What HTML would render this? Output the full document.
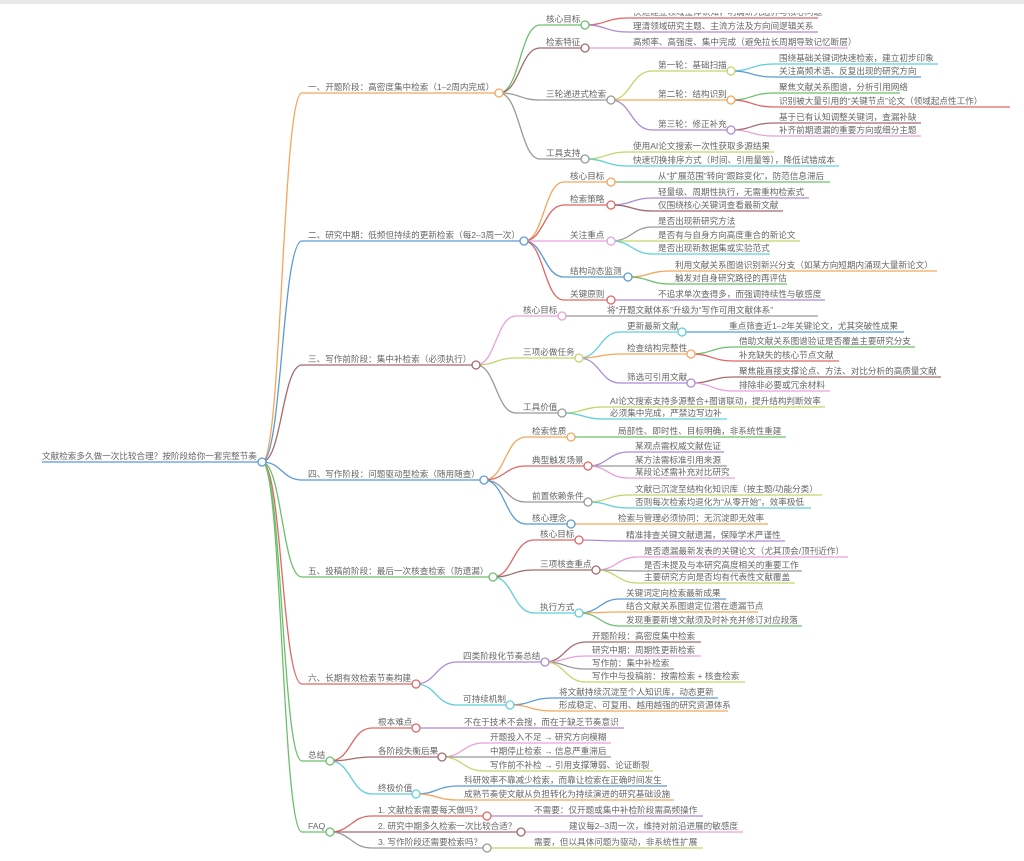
<!DOCTYPE html>
<html><head><meta charset="utf-8"><style>
html,body{margin:0;padding:0;background:#fff;}
svg{display:block;}
text{font-family:"Liberation Sans","Noto Sans CJK SC",sans-serif;font-size:8.6px;fill:#666;}
path{fill:none;stroke-width:1.3;}
circle{fill:#fff;stroke-width:1.3;}
</style></head><body>
<svg width="1024" height="861" viewBox="0 0 1024 861" xmlns="http://www.w3.org/2000/svg">
<rect x="0" y="0" width="1024" height="4" fill="#e8e8e8"/>
<path stroke="#5b9bd5" d="M42 462 H262"/>
<path stroke="#f5a65b" d="M262 462 C282 462 282 93 302 93 H499"/>
<path stroke="#5b9bd5" d="M262 462 C282 462 282 241 302 241 H524"/>
<path stroke="#a36b6b" d="M262 462 C282 462 282 365 302 365 H476"/>
<path stroke="#5b9bd5" d="M262 462 C282 462 282 480 302 480 H484"/>
<path stroke="#6cc06c" d="M262 462 C282 462 282 577 302 577 H493"/>
<path stroke="#e06666" d="M262 462 C282 462 282 684 302 684 H416"/>
<path stroke="#6cc06c" d="M262 462 C282 462 282 761 302 761 H330"/>
<path stroke="#6cc06c" d="M262 462 C282 462 282 832 302 832 H330"/>
<path stroke="#6cc06c" d="M499 93 C520 93 520 25 540 25 H585"/>
<path stroke="#a36b6b" d="M499 93 C520 93 520 48 540 48 H585"/>
<path stroke="#999" d="M499 93 C520 93 520 100 540 100 H611"/>
<path stroke="#999" d="M499 93 C520 93 520 159 540 159 H585"/>
<path stroke="#e06666" d="M585 25 C606 25 606 18 628 18 H818"/>
<path stroke="#a98bd6" d="M585 25 C606 25 606 32 628 32 H818"/>
<path stroke="#e9a0d9" d="M585 48 H848"/>
<path stroke="#c5d36a" d="M611 100 C631 100 631 71 652 71 H731"/>
<path stroke="#f5a65b" d="M611 100 H731"/>
<path stroke="#a98bd6" d="M611 100 C631 100 631 130 652 130 H731"/>
<path stroke="#5fcfdc" d="M731 71 C752 71 752 64 774 64 H938"/>
<path stroke="#5b9bd5" d="M731 71 C752 71 752 77 774 77 H921"/>
<path stroke="#6cc06c" d="M731 100 C752 100 752 93 774 93 H900"/>
<path stroke="#e06666" d="M731 100 C752 100 752 107 774 107 H1010"/>
<path stroke="#a36b6b" d="M731 130 C752 130 752 123 774 123 H921"/>
<path stroke="#e9a0d9" d="M731 130 C752 130 752 136 774 136 H921"/>
<path stroke="#c5d36a" d="M585 159 C606 159 606 152 628 152 H774"/>
<path stroke="#5fcfdc" d="M585 159 C606 159 606 166 628 166 H839"/>
<path stroke="#f5a65b" d="M524 241 C544 241 544 182 564 182 H611"/>
<path stroke="#e06666" d="M524 241 C544 241 544 205 564 205 H611"/>
<path stroke="#e9a0d9" d="M524 241 H611"/>
<path stroke="#5b9bd5" d="M524 241 C544 241 544 277 564 277 H628"/>
<path stroke="#e06666" d="M524 241 C544 241 544 300 564 300 H611"/>
<path stroke="#6cc06c" d="M611 182 H830"/>
<path stroke="#a98bd6" d="M611 205 C632 205 632 198 653 198 H809"/>
<path stroke="#a36b6b" d="M611 205 C632 205 632 211 653 211 H783"/>
<path stroke="#999" d="M611 241 C632 241 632 227 653 227 H735"/>
<path stroke="#c5d36a" d="M611 241 H800"/>
<path stroke="#5fcfdc" d="M611 241 C632 241 632 254 653 254 H770"/>
<path stroke="#f5a65b" d="M628 277 C649 277 649 271 670 271 H937"/>
<path stroke="#6cc06c" d="M628 277 C649 277 649 284 670 284 H787"/>
<path stroke="#a98bd6" d="M611 300 H825"/>
<path stroke="#e9a0d9" d="M476 365 C496 365 496 316 516 316 H562"/>
<path stroke="#c5d36a" d="M476 365 C496 365 496 358 516 358 H579"/>
<path stroke="#999" d="M476 365 C496 365 496 413 516 413 H562"/>
<path stroke="#999" d="M562 316 H818"/>
<path stroke="#5fcfdc" d="M579 358 C600 358 600 332 620 332 H682"/>
<path stroke="#f5a65b" d="M579 358 C600 358 600 354 620 354 H691"/>
<path stroke="#a98bd6" d="M579 358 C600 358 600 383 620 383 H691"/>
<path stroke="#5b9bd5" d="M682 332 H904"/>
<path stroke="#6cc06c" d="M691 354 C712 354 712 347 734 347 H915"/>
<path stroke="#e06666" d="M691 354 C712 354 712 361 734 361 H839"/>
<path stroke="#a36b6b" d="M691 383 C712 383 712 377 734 377 H941"/>
<path stroke="#e9a0d9" d="M691 383 C712 383 712 391 734 391 H830"/>
<path stroke="#c5d36a" d="M562 413 C583 413 583 407 604 407 H825"/>
<path stroke="#5fcfdc" d="M562 413 C583 413 583 419 604 419 H727"/>
<path stroke="#f5a65b" d="M484 480 C505 480 505 437 526 437 H571"/>
<path stroke="#e06666" d="M484 480 C505 480 505 466 526 466 H588"/>
<path stroke="#999" d="M484 480 C505 480 505 502 526 502 H588"/>
<path stroke="#5b9bd5" d="M484 480 C505 480 505 524 526 524 H571"/>
<path stroke="#6cc06c" d="M571 437 H786"/>
<path stroke="#a98bd6" d="M588 466 C608 466 608 452 629 452 H724"/>
<path stroke="#999" d="M588 466 H727"/>
<path stroke="#e9a0d9" d="M588 466 C608 466 608 478 629 478 H735"/>
<path stroke="#c5d36a" d="M588 502 C608 502 608 495 629 495 H822"/>
<path stroke="#5fcfdc" d="M588 502 C608 502 608 508 629 508 H811"/>
<path stroke="#f5a65b" d="M571 524 H768"/>
<path stroke="#e06666" d="M493 577 C513 577 513 540 534 540 H579"/>
<path stroke="#a36b6b" d="M493 577 C513 577 513 570 534 570 H596"/>
<path stroke="#5fcfdc" d="M493 577 C513 577 513 613 534 613 H579"/>
<path stroke="#a98bd6" d="M579 540 C600 540 600 541 620 541 H785"/>
<path stroke="#e9a0d9" d="M596 570 C617 570 617 557 638 557 H848"/>
<path stroke="#999" d="M596 570 C617 570 617 571 638 571 H802"/>
<path stroke="#c5d36a" d="M596 570 C617 570 617 583 638 583 H795"/>
<path stroke="#5b9bd5" d="M579 613 C600 613 600 599 620 599 H726"/>
<path stroke="#f5a65b" d="M579 613 C600 613 600 612 620 612 H758"/>
<path stroke="#6cc06c" d="M579 613 C600 613 600 626 620 626 H802"/>
<path stroke="#a98bd6" d="M416 684 C436 684 436 662 457 662 H545"/>
<path stroke="#5fcfdc" d="M416 684 C436 684 436 705 457 705 H510"/>
<path stroke="#a36b6b" d="M545 662 C565 662 565 642 586 642 H701"/>
<path stroke="#e9a0d9" d="M545 662 C565 662 565 656 586 656 H701"/>
<path stroke="#999" d="M545 662 C565 662 565 669 586 669 H674"/>
<path stroke="#c5d36a" d="M545 662 C565 662 565 682 586 682 H745"/>
<path stroke="#5b9bd5" d="M510 705 C531 705 531 698 553 698 H718"/>
<path stroke="#f5a65b" d="M510 705 C531 705 531 711 553 711 H728"/>
<path stroke="#e06666" d="M330 761 C351 761 351 728 372 728 H416"/>
<path stroke="#a36b6b" d="M330 761 C351 761 351 757 372 757 H442"/>
<path stroke="#5fcfdc" d="M330 761 C351 761 351 794 372 794 H416"/>
<path stroke="#a98bd6" d="M416 728 H624"/>
<path stroke="#e9a0d9" d="M442 757 C463 757 463 743 484 743 H611"/>
<path stroke="#999" d="M442 757 H611"/>
<path stroke="#c5d36a" d="M442 757 C463 757 463 771 484 771 H653"/>
<path stroke="#5b9bd5" d="M416 794 C437 794 437 786 458 786 H667"/>
<path stroke="#f5a65b" d="M416 794 C437 794 437 800 458 800 H674"/>
<path stroke="#e06666" d="M330 832 C351 832 351 816 372 816 H487"/>
<path stroke="#a36b6b" d="M330 832 H521"/>
<path stroke="#999" d="M330 832 C351 832 351 848 372 848 H487"/>
<path stroke="#a98bd6" d="M487 816 H703"/>
<path stroke="#e9a0d9" d="M521 832 H743"/>
<path stroke="#c5d36a" d="M487 848 H703"/>

<circle cx="262" cy="462" r="4" stroke="#5b9bd5"/>
<circle cx="499" cy="93" r="4" stroke="#f5a65b"/>
<circle cx="524" cy="241" r="4" stroke="#5b9bd5"/>
<circle cx="476" cy="365" r="4" stroke="#a36b6b"/>
<circle cx="484" cy="480" r="4" stroke="#5b9bd5"/>
<circle cx="493" cy="577" r="4" stroke="#6cc06c"/>
<circle cx="416" cy="684" r="4" stroke="#e06666"/>
<circle cx="330" cy="761" r="4" stroke="#6cc06c"/>
<circle cx="330" cy="832" r="4" stroke="#6cc06c"/>
<circle cx="585" cy="25" r="4" stroke="#6cc06c"/>
<circle cx="585" cy="48" r="4" stroke="#a36b6b"/>
<circle cx="611" cy="100" r="4" stroke="#999"/>
<circle cx="585" cy="159" r="4" stroke="#999"/>
<circle cx="731" cy="71" r="4" stroke="#c5d36a"/>
<circle cx="731" cy="100" r="4" stroke="#f5a65b"/>
<circle cx="731" cy="130" r="4" stroke="#a98bd6"/>
<circle cx="611" cy="182" r="4" stroke="#f5a65b"/>
<circle cx="611" cy="205" r="4" stroke="#e06666"/>
<circle cx="611" cy="241" r="4" stroke="#e9a0d9"/>
<circle cx="628" cy="277" r="4" stroke="#5b9bd5"/>
<circle cx="611" cy="300" r="4" stroke="#e06666"/>
<circle cx="562" cy="316" r="4" stroke="#e9a0d9"/>
<circle cx="579" cy="358" r="4" stroke="#c5d36a"/>
<circle cx="562" cy="413" r="4" stroke="#999"/>
<circle cx="682" cy="332" r="4" stroke="#5fcfdc"/>
<circle cx="691" cy="354" r="4" stroke="#f5a65b"/>
<circle cx="691" cy="383" r="4" stroke="#a98bd6"/>
<circle cx="571" cy="437" r="4" stroke="#f5a65b"/>
<circle cx="588" cy="466" r="4" stroke="#e06666"/>
<circle cx="588" cy="502" r="4" stroke="#999"/>
<circle cx="571" cy="524" r="4" stroke="#5b9bd5"/>
<circle cx="579" cy="540" r="4" stroke="#e06666"/>
<circle cx="596" cy="570" r="4" stroke="#a36b6b"/>
<circle cx="579" cy="613" r="4" stroke="#5fcfdc"/>
<circle cx="545" cy="662" r="4" stroke="#a98bd6"/>
<circle cx="510" cy="705" r="4" stroke="#5fcfdc"/>
<circle cx="416" cy="728" r="4" stroke="#e06666"/>
<circle cx="442" cy="757" r="4" stroke="#a36b6b"/>
<circle cx="416" cy="794" r="4" stroke="#5fcfdc"/>
<circle cx="487" cy="816" r="4" stroke="#e06666"/>
<circle cx="521" cy="832" r="4" stroke="#a36b6b"/>
<circle cx="487" cy="848" r="4" stroke="#999"/>

<text x="42" y="459">文献检索多久做一次比较合理？按阶段给你一套完整节奏</text>
<text x="308" y="90">一、开题阶段：高密度集中检索（1–2周内完成）</text>
<text x="308" y="238">二、研究中期：低频但持续的更新检索（每2–3周一次）</text>
<text x="308" y="362">三、写作前阶段：集中补检索（必须执行）</text>
<text x="308" y="477">四、写作阶段：问题驱动型检索（随用随查）</text>
<text x="308" y="574">五、投稿前阶段：最后一次核查检索（防遗漏）</text>
<text x="308" y="681">六、长期有效检索节奏构建</text>
<text x="308" y="758">总结</text>
<text x="308" y="829">FAQ</text>

<text x="546" y="22">核心目标</text>
<text x="546" y="45">检索特征</text>
<text x="546" y="97">三轮递进式检索</text>
<text x="546" y="156">工具支持</text>
<text x="633" y="15">快速建立领域整体认知，明确研究边界与核心问题</text>
<rect x="620" y="4" width="210" height="9" fill="#fff"/>
<text x="633" y="29">理清领域研究主题、主流方法及方向间逻辑关系</text>
<text x="633" y="45">高频率、高强度、集中完成（避免拉长周期导致记忆断层）</text>
<text x="658" y="68">第一轮：基础扫描</text>
<text x="658" y="97">第二轮：结构识别</text>
<text x="658" y="127">第三轮：修正补充</text>
<text x="779" y="61">围绕基础关键词快速检索，建立初步印象</text>
<text x="779" y="74">关注高频术语、反复出现的研究方向</text>
<text x="779" y="90">聚焦文献关系图谱，分析引用网络</text>
<text x="779" y="104">识别被大量引用的“关键节点”论文（领域起点性工作）</text>
<text x="779" y="120">基于已有认知调整关键词，查漏补缺</text>
<text x="779" y="133">补齐前期遗漏的重要方向或细分主题</text>
<text x="633" y="149">使用AI论文搜索一次性获取多源结果</text>
<text x="633" y="163">快速切换排序方式（时间、引用量等），降低试错成本</text>

<text x="570" y="179">核心目标</text>
<text x="570" y="202">检索策略</text>
<text x="570" y="238">关注重点</text>
<text x="570" y="274">结构动态监测</text>
<text x="570" y="297">关键原则</text>
<text x="658" y="179">从“扩展范围”转向“跟踪变化”，防范信息滞后</text>
<text x="658" y="195">轻量级、周期性执行，无需重构检索式</text>
<text x="658" y="208">仅围绕核心关键词查看最新文献</text>
<text x="658" y="224">是否出现新研究方法</text>
<text x="658" y="238">是否有与自身方向高度重合的新论文</text>
<text x="658" y="251">是否出现新数据集或实验范式</text>
<text x="675" y="268">利用文献关系图谱识别新兴分支（如某方向短期内涌现大量新论文）</text>
<text x="675" y="281">触发对自身研究路径的再评估</text>
<text x="658" y="297">不追求单次查得多，而强调持续性与敏感度</text>

<text x="523" y="313">核心目标</text>
<text x="523" y="355">三项必做任务</text>
<text x="523" y="410">工具价值</text>
<text x="607" y="313">将“开题文献体系”升级为“写作可用文献体系”</text>
<text x="627" y="329">更新最新文献</text>
<text x="627" y="351">检查结构完整性</text>
<text x="627" y="380">筛选可引用文献</text>
<text x="729" y="329">重点筛查近1–2年关键论文，尤其突破性成果</text>
<text x="739" y="344">借助文献关系图谱验证是否覆盖主要研究分支</text>
<text x="739" y="358">补充缺失的核心节点文献</text>
<text x="739" y="374">聚焦能直接支撑论点、方法、对比分析的高质量文献</text>
<text x="739" y="388">排除非必要或冗余材料</text>
<text x="610" y="404">AI论文搜索支持多源整合+图谱联动，提升结构判断效率</text>
<text x="610" y="416">必须集中完成，严禁边写边补</text>

<text x="532" y="434">检索性质</text>
<text x="532" y="463">典型触发场景</text>
<text x="532" y="499">前置依赖条件</text>
<text x="532" y="521">核心理念</text>
<text x="618" y="434">局部性、即时性、目标明确，非系统性重建</text>
<text x="635" y="449">某观点需权威文献佐证</text>
<text x="635" y="463">某方法需标准引用来源</text>
<text x="635" y="475">某段论述需补充对比研究</text>
<text x="635" y="492">文献已沉淀至结构化知识库（按主题/功能分类）</text>
<text x="635" y="505">否则每次检索均退化为“从零开始”，效率极低</text>
<text x="618" y="521">检索与管理必须协同：无沉淀即无效率</text>

<text x="540" y="537">核心目标</text>
<text x="540" y="567">三项核查重点</text>
<text x="540" y="610">执行方式</text>
<text x="626" y="538">精准排查关键文献遗漏，保障学术严谨性</text>
<text x="644" y="554">是否遗漏最新发表的关键论文（尤其顶会/顶刊近作）</text>
<text x="644" y="568">是否未提及与本研究高度相关的重要工作</text>
<text x="644" y="580">主要研究方向是否均有代表性文献覆盖</text>
<text x="626" y="596">关键词定向检索最新成果</text>
<text x="626" y="609">结合文献关系图谱定位潜在遗漏节点</text>
<text x="626" y="623">发现重要新增文献须及时补充并修订对应段落</text>

<text x="463" y="659">四类阶段化节奏总结</text>
<text x="463" y="702">可持续机制</text>
<text x="592" y="639">开题阶段：高密度集中检索</text>
<text x="592" y="653">研究中期：周期性更新检索</text>
<text x="592" y="666">写作前：集中补检索</text>
<text x="592" y="679">写作中与投稿前：按需检索 + 核查检索</text>
<text x="559" y="695">将文献持续沉淀至个人知识库，动态更新</text>
<text x="559" y="708">形成稳定、可复用、越用越强的研究资源体系</text>

<text x="378" y="725">根本难点</text>
<text x="378" y="754">各阶段失衡后果</text>
<text x="378" y="791">终极价值</text>
<text x="464" y="725">不在于技术不会搜，而在于缺乏节奏意识</text>
<text x="490" y="740">开题投入不足 → 研究方向模糊</text>
<text x="490" y="754">中期停止检索 → 信息严重滞后</text>
<text x="490" y="768">写作前不补检 → 引用支撑薄弱、论证断裂</text>
<text x="464" y="783">科研效率不靠减少检索，而靠让检索在正确时间发生</text>
<text x="464" y="797">成熟节奏使文献从负担转化为持续演进的研究基础设施</text>

<text x="378" y="813">1. 文献检索需要每天做吗？</text>
<text x="378" y="829">2. 研究中期多久检索一次比较合适？</text>
<text x="378" y="845">3. 写作阶段还需要检索吗？</text>
<text x="534" y="813">不需要：仅开题或集中补检阶段需高频操作</text>
<text x="569" y="829">建议每2–3周一次，维持对前沿进展的敏感度</text>
<text x="534" y="845">需要，但以具体问题为驱动，非系统性扩展</text>
</svg>
</body></html>
